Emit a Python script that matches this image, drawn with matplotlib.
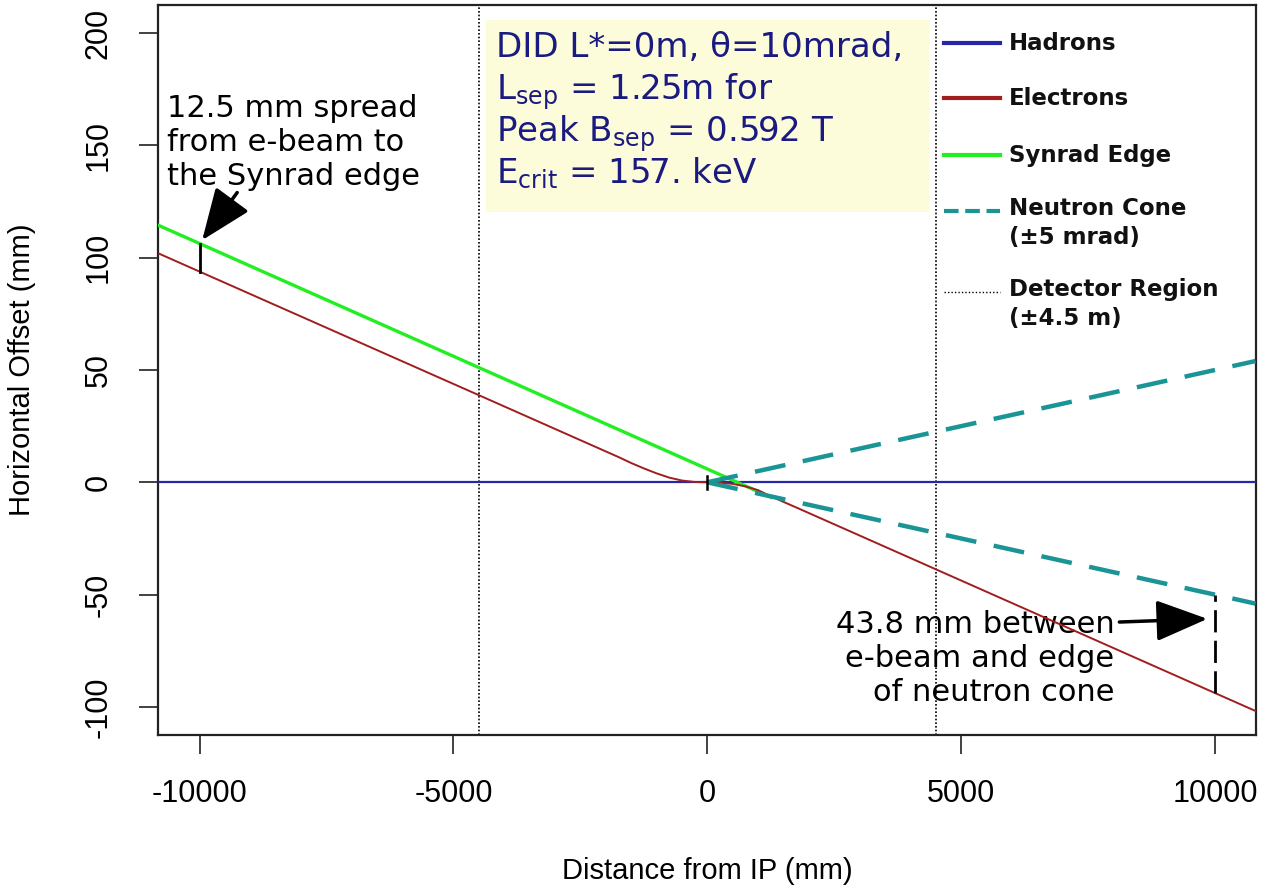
import numpy as np
import matplotlib.pyplot as plt
from matplotlib import font_manager

# beam trajectories near the IP (mm)
hadron_x = [-10800, 10800]
hadron_y = [0, 0]

electron_x = [-10800, -10000, -4500, -1734, -1500, -1250, -1000, -750, -500, -250, 0,
              250, 500, 750, 1000, 1250, 1813, 4500, 10000, 10800]
electron_y = [101.8, 93.8, 38.8, 11.1, 8.6, 6.2, 4.0, 2.1, 0.8, 0.15, 0.0,
              -0.2, -0.7, -1.8, -3.5, -6.2, -11.8, -38.7, -93.8, -101.8]

synrad_x = [-10800, -10000, -4500, 1260]
synrad_y = [114.3, 106.3, 51.1, -6.7]

neutron_x = [0, 10800]
neutron_up = [0, 54]
neutron_dn = [0, -54]

detector_edge = 4500
spread_x, spread_lo, spread_hi = -10000, 93.8, 106.3
cone_x, cone_lo, cone_hi = 10000, -93.8, -50.0

xticks = [-10000, -5000, 0, 5000, 10000]
yticks = [-100, -50, 0, 50, 100, 150, 200]

box_lines = ['DID L*=0m, \u03b8=10mrad,',
             r'L$_{\rm sep}$ = 1.25m for',
             r'Peak B$_{\rm sep}$ = 0.592 T',
             r'E$_{\rm crit}$ = 157. keV']

legend_names = ['Hadrons', 'Electrons', 'Synrad Edge', 'Neutron Cone\n(\u00b15 mrad)',
                'Detector Region\n(\u00b14.5 m)']

# colours
c_had = '#2626a6'
c_ele = '#a01e1e'
c_syn = '#22ee22'
c_neu = '#1a9494'
c_txt = '#1a1a80'

installed = {f.name for f in font_manager.fontManager.ttflist}
narrow = 'Liberation Sans Narrow' if 'Liberation Sans Narrow' in installed else 'Liberation Sans'

fig = plt.figure(figsize=(12.65, 8.92), dpi=100)
ax = fig.add_axes([0.1249, 0.176, 0.8680, 0.8184])

ax.set_xlim(-10820, 10810)
ax.set_ylim(-112.5, 212.5)

# detector region and info box
ax.axvline(-detector_edge, color='black', lw=1.2, ls=(0, (1, 1.2)), zorder=1)
ax.axvline(detector_edge, color='black', lw=1.2, ls=(0, (1, 1.2)), zorder=1)
ax.fill_between([-4355, 4374], 120.3, 205.8, color='#fcfcdb', lw=0, zorder=0)

ax.plot(hadron_x, hadron_y, color=c_had, lw=1.6, zorder=3)
ax.plot(synrad_x, synrad_y, color=c_syn, lw=2.4, zorder=4)
ax.plot(electron_x, electron_y, color=c_ele, lw=1.4, zorder=5)
ax.plot(neutron_x, neutron_up, color=c_neu, lw=3.2, ls=(0, (7, 4)), zorder=6)
ax.plot(neutron_x, neutron_dn, color=c_neu, lw=3.2, ls=(0, (7, 4)), zorder=6)
ax.plot([0, 0], [-3, 3], color='black', lw=1.8, zorder=7)

# spread markers
ax.plot([spread_x, spread_x], [spread_lo, spread_hi], color='black', lw=2, zorder=7)
ax.plot([cone_x, cone_x], [cone_lo, cone_hi], color='black', lw=2,
        ls=(0, (8, 3)), zorder=7)

arrow = dict(arrowstyle='-|>,head_length=1.0,head_width=0.4', color='black',
             lw=2.5, mutation_scale=32, shrinkA=0, shrinkB=0)
ax.annotate('', xy=(-9950, 107.8), xytext=(-9260, 129), arrowprops=arrow)
ax.annotate('', xy=(9852, -60.8), xytext=(8118, -62.2), arrowprops=arrow)

ax.text(-10640, 151.4, '12.5 mm spread\nfrom e-beam to\nthe Synrad edge',
        fontsize=22, family='DejaVu Sans', va='center', ha='left',
        linespacing=1.22, color='black')
ax.text(8020, -78.4, '43.8 mm between\ne-beam and edge\nof neutron cone',
        fontsize=22, family='DejaVu Sans', va='center', ha='right',
        linespacing=1.2, color='black', multialignment='right')

ybase = [189.3, 170.6, 151.9, 133.2]
for s, yb in zip(box_lines, ybase):
    ax.text(-4158, yb, s, fontsize=24.5, family='DejaVu Sans', color=c_txt,
            va='baseline', ha='left')

# legend drawn by hand
leg_y = [195.5, 171.0, 145.7, 120.7, 84.6]
leg_styles = [dict(color=c_had, lw=3), dict(color=c_ele, lw=3), dict(color=c_syn, lw=3),
              dict(color=c_neu, lw=3, ls=(0, (3.5, 1.6))),
              dict(color='black', lw=1, ls=(0, (1, 1.5)))]
for name, yy, st in zip(legend_names, leg_y, leg_styles):
    ax.plot([4660, 5760], [yy, yy], **st, zorder=8)
    if '\n' in name:
        ax.text(5950, yy + 6.5, name, fontsize=16.5, fontweight='bold',
                family='DejaVu Sans', va='top', ha='left', linespacing=1.35,
                color='#111111')
    else:
        ax.text(5950, yy, name, fontsize=16.5, fontweight='bold',
                family='DejaVu Sans', va='center', ha='left', color='#111111')

ax.set_xticks(xticks)
ax.set_yticks(yticks)
ax.set_xticklabels([str(t) for t in xticks], fontsize=22, family='Liberation Sans')
ax.set_yticklabels([str(t) for t in yticks], fontsize=22, family='Liberation Sans',
                   rotation=90, va='center')
ax.tick_params(direction='out', length=14, width=1.3, pad=18, color='#333333')

for sp in ax.spines.values():
    sp.set_linewidth(1.6)
    sp.set_color('#222222')

ax.set_xlabel('Distance from IP (mm)', fontsize=21, family=narrow, labelpad=34)
ax.set_ylabel('Horizontal Offset (mm)', fontsize=21, family=narrow, labelpad=34)

fig.savefig('out.png', dpi=100)
